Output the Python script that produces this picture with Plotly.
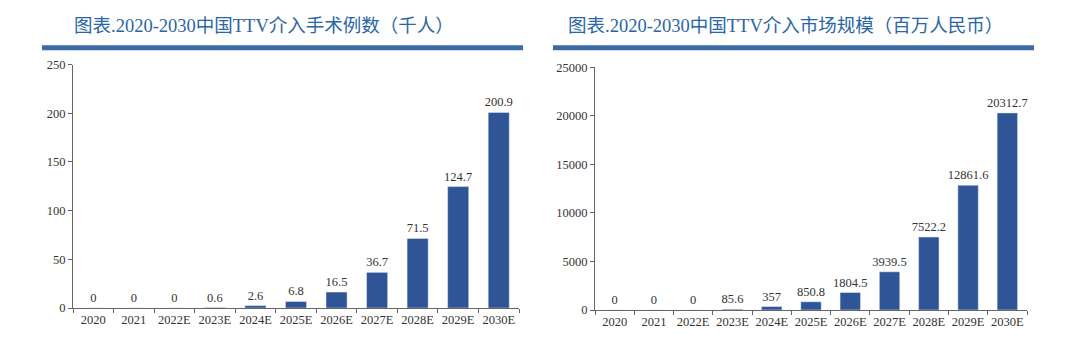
import plotly.graph_objects as go

categories = ["2020", "2021", "2022E", "2023E", "2024E", "2025E", "2026E", "2027E", "2028E", "2029E", "2030E"]
surgeries = [0, 0, 0, 0.6, 2.6, 6.8, 16.5, 36.7, 71.5, 124.7, 200.9]
surgery_labels = ["0", "0", "0", "0.6", "2.6", "6.8", "16.5", "36.7", "71.5", "124.7", "200.9"]
market = [0, 0, 0, 85.6, 357, 850.8, 1804.5, 3939.5, 7522.2, 12861.6, 20312.7]
market_labels = ["0", "0", "0", "85.6", "357", "850.8", "1804.5", "3939.5", "7522.2", "12861.6", "20312.7"]
title_left = "图表.2020-2030中国TTV介入手术例数（千人）"
title_right = "图表.2020-2030中国TTV介入市场规模（百万人民币）"

W, H = 1080, 341
BAR = "#2F5597"
TITLE = "#2A66A6"
TXT = "#333333"
FONT = "Liberation Serif, Times New Roman, serif"
TFONT = "Liberation Serif, Noto Sans CJK SC, serif"

def px(x):
    return x / W

def py(y):
    return 1 - y / H

fig = go.Figure()
fig.add_trace(go.Bar(x=categories, y=surgeries, text=surgery_labels, textposition="outside",
                     marker_color=BAR, width=0.52, cliponaxis=False, constraintext="none",
                     textfont=dict(family=FONT, size=12.5, color=TXT),
                     xaxis="x", yaxis="y", showlegend=False))
fig.add_trace(go.Bar(x=categories, y=market, text=market_labels, textposition="outside",
                     marker_color=BAR, width=0.52, cliponaxis=False, constraintext="none",
                     textfont=dict(family=FONT, size=12.5, color=TXT),
                     xaxis="x2", yaxis="y2", showlegend=False))

axis_common = dict(showline=True, linecolor="#666666", linewidth=1, ticks="outside",
                   tickcolor="#666666", ticklen=4, showgrid=False, zeroline=False,
                   tickfont=dict(family=FONT, size=12.5, color=TXT))

fig.update_layout(
    width=W, height=H, margin=dict(l=0, r=0, t=0, b=0),
    paper_bgcolor="white", plot_bgcolor="white",
    xaxis=dict(domain=[px(73), px(519)], anchor="y", tickson="boundaries", type="category",
               tickangle=0, **axis_common),
    yaxis=dict(domain=[py(314), py(60)], anchor="x", range=[0, 250], dtick=50, **axis_common),
    xaxis2=dict(domain=[px(595), px(1027)], anchor="y2", tickson="boundaries", type="category",
                tickangle=0, **axis_common),
    yaxis2=dict(domain=[py(316), py(63)], anchor="x2", range=[0, 25000], dtick=5000,
                tickformat="d", **axis_common),
    bargap=0.48,
)

fig.add_shape(type="rect", xref="paper", yref="paper", x0=px(42), x1=px(523), y0=py(45), y1=py(40),
              fillcolor="#3A6BA5", line_width=0)
fig.add_shape(type="rect", xref="paper", yref="paper", x0=px(553), x1=px(1034), y0=py(45), y1=py(40),
              fillcolor="#3A6BA5", line_width=0)
fig.add_annotation(text=title_left, xref="paper", yref="paper", x=px(264), y=py(20),
                   xanchor="center", yanchor="middle",
                   showarrow=False, font=dict(family=TFONT, size=18.5, color=TITLE))
fig.add_annotation(text=title_right, xref="paper", yref="paper", x=px(785), y=py(20),
                   xanchor="center", yanchor="middle",
                   showarrow=False, font=dict(family=TFONT, size=18.5, color=TITLE))

fig.write_html("out.html")
